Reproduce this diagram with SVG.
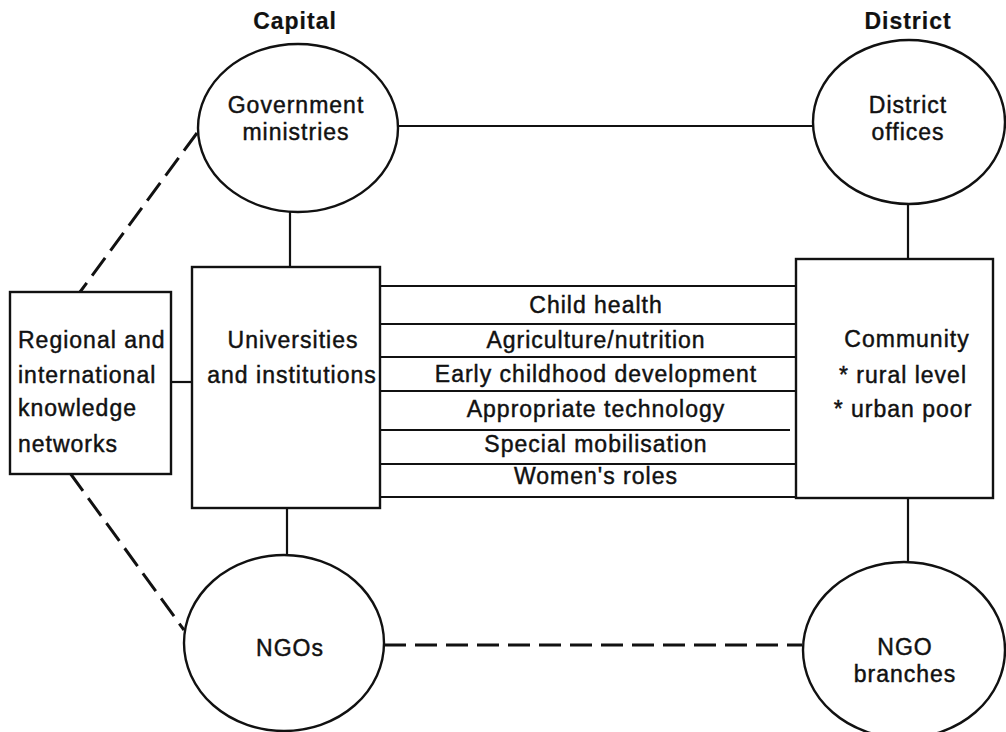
<svg xmlns="http://www.w3.org/2000/svg" width="1006" height="732" viewBox="0 0 1006 732">
<style>
text{font-family:"Liberation Sans",Arial,sans-serif;font-size:23px;letter-spacing:1px;fill:#111;stroke:#111;stroke-width:0.45;text-anchor:middle}
.h{font-weight:bold;stroke-width:0.2}
.l{text-anchor:start}
.shape{fill:#fff;stroke:#111;stroke-width:2.4}
.ln{stroke:#111;stroke-width:2.2;fill:none}
.dash{stroke:#111;stroke-width:3;fill:none;stroke-dasharray:22 9}
</style>
<rect width="1006" height="732" fill="#fff"/>
<text class="h" x="295" y="29">Capital</text>
<text class="h" x="908" y="29">District</text>
<g id="connectors">
<line class="ln" x1="397" y1="126" x2="813" y2="126"/>
<line class="ln" x1="290" y1="212" x2="290" y2="268"/>
<line class="ln" x1="908" y1="204" x2="908" y2="260"/>
<line class="ln" x1="172" y1="382" x2="192" y2="382"/>
<line class="ln" x1="287" y1="508" x2="287" y2="555"/>
<line class="ln" x1="908" y1="498" x2="908" y2="562"/>
<line class="dash" x1="197" y1="133" x2="80" y2="292"/>
<line class="dash" x1="70" y1="473" x2="184" y2="630"/>
<line class="dash" x1="384" y1="645" x2="802" y2="645"/>
</g>
<g id="bars">
<line class="ln" x1="380" y1="286" x2="796" y2="286"/>
<line class="ln" x1="380" y1="324" x2="796" y2="324"/>
<line class="ln" x1="380" y1="357" x2="796" y2="357"/>
<line class="ln" x1="380" y1="391" x2="796" y2="391"/>
<line class="ln" x1="380" y1="430" x2="790" y2="430"/>
<line class="ln" x1="380" y1="464" x2="796" y2="464"/>
<line class="ln" x1="380" y1="497" x2="796" y2="497"/>
<text x="596" y="313">Child health</text>
<text x="596" y="348">Agriculture/nutrition</text>
<text x="596" y="382">Early childhood development</text>
<text x="596" y="417">Appropriate technology</text>
<text x="596" y="452">Special mobilisation</text>
<text x="596" y="484">Women's roles</text>
</g>
<g id="gov">
<ellipse class="shape" cx="298" cy="128" rx="100" ry="84"/>
<text x="296" y="113">Government</text>
<text x="296" y="140">ministries</text>
</g>
<g id="district">
<ellipse class="shape" cx="909" cy="122" rx="96" ry="82"/>
<text x="908" y="113">District</text>
<text x="908" y="140">offices</text>
</g>
<g id="regional">
<rect class="shape" x="10" y="292" width="161" height="182"/>
<text class="l" x="18" y="348">Regional and</text>
<text class="l" x="18" y="383">international</text>
<text class="l" x="18" y="416">knowledge</text>
<text class="l" x="18" y="452">networks</text>
</g>
<g id="universities">
<rect class="shape" x="192" y="267" width="188" height="241"/>
<text x="293" y="348">Universities</text>
<text x="292" y="383">and institutions</text>
</g>
<g id="community">
<rect class="shape" x="796" y="259" width="197" height="239"/>
<text x="907" y="347">Community</text>
<text x="903" y="383">* rural level</text>
<text x="903" y="417">* urban poor</text>
</g>
<g id="ngos">
<ellipse class="shape" cx="284" cy="643" rx="100" ry="88"/>
<text x="290" y="656">NGOs</text>
</g>
<g id="ngobranches">
<ellipse class="shape" cx="904" cy="650" rx="101" ry="88"/>
<text x="905" y="655">NGO</text>
<text x="905" y="682">branches</text>
</g>
</svg>
